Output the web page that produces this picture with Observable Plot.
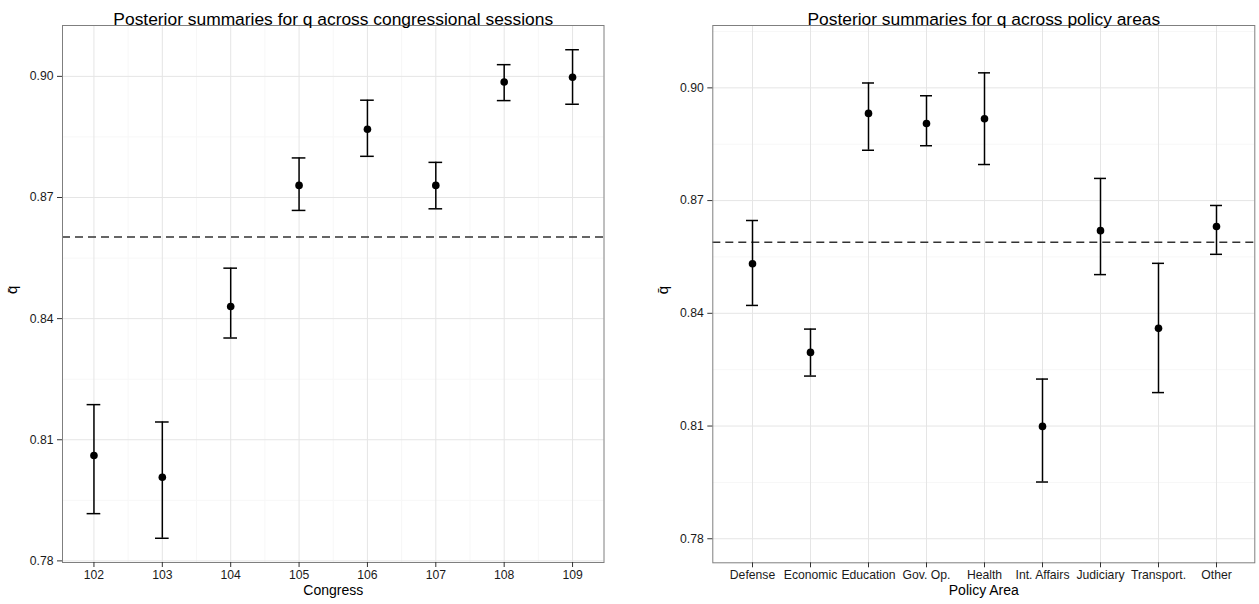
<!DOCTYPE html>
<html>
<head>
<meta charset="utf-8">
<script src="https://cdn.jsdelivr.net/npm/d3@7"></script>
<script src="https://cdn.jsdelivr.net/npm/@observablehq/plot@0.6"></script>
<style>
  html, body { margin: 0; padding: 0; background: #fff; overflow: hidden; }
  #wrap { display: flex; width: 1259px; height: 604px; }
  g[aria-label$="tick label"], g[aria-label$="tick label"] text { font-size: 12.2px !important; }
</style>
</head>
<body>
<div id="wrap"></div>
<script>
// ---- Data: congressional sessions ----
const congress = [102, 103, 104, 105, 106, 107, 108, 109];
const congressMean = [0.8061, 0.8007, 0.8430, 0.8730, 0.8869, 0.8730, 0.8986, 0.8998];
const congressLow  = [0.7917, 0.7856, 0.8352, 0.8668, 0.8802, 0.8672, 0.8940, 0.8931];
const congressHigh = [0.8187, 0.8144, 0.8525, 0.8798, 0.8941, 0.8787, 0.9029, 0.9066];
const congressRef = 0.8602;

// ---- Data: policy areas ----
const areas = ["Defense", "Economic", "Education", "Gov. Op.", "Health", "Int. Affairs", "Judiciary", "Transport.", "Other"];
const areaMean = [0.8532, 0.8296, 0.8932, 0.8905, 0.8918, 0.8099, 0.8620, 0.8360, 0.8631];
const areaLow  = [0.8421, 0.8233, 0.8834, 0.8846, 0.8796, 0.7951, 0.8503, 0.8189, 0.8557];
const areaHigh = [0.8647, 0.8358, 0.9013, 0.8979, 0.9040, 0.8225, 0.8759, 0.8533, 0.8687];
const areaRef = 0.8589;

// ---- Tick labels / titles ----
const yTicks = [0.78, 0.81, 0.84, 0.87, 0.90];
const yMinorLeft = [0.795, 0.825, 0.855, 0.885];
const yMinorRight = [0.795, 0.825, 0.855, 0.885, 0.915];
const xMinorLeft = [102.5, 103.5, 104.5, 105.5, 106.5, 107.5, 108.5];
const titleLeft = "Posterior summaries for q across congressional sessions";
const titleRight = "Posterior summaries for q across policy areas";
const xLabelLeft = "Congress";
const xLabelRight = "Policy Area";
const yLabel = "q\u0304";

const font = '"Liberation Sans", Arial, Helvetica, sans-serif';
const majorGrid = {stroke: "#e5e5e5", strokeOpacity: 1, strokeWidth: 1};
const minorGrid = {stroke: "#f7f7f7", strokeOpacity: 1, strokeWidth: 1};
const fmt = d3.format(".2f");
const svgStyle = {fontFamily: font, fontSize: "12px", background: "#fff", overflow: "visible"};

const leftData = congress.map((c, i) => ({c, m: congressMean[i], lo: congressLow[i], hi: congressHigh[i]}));
const rightData = areas.map((a, i) => ({a, m: areaMean[i], lo: areaLow[i], hi: areaHigh[i]}));

const left = Plot.plot({
  width: 630, height: 604,
  marginLeft: 62, marginRight: 26.5, marginTop: 25, marginBottom: 42,
  style: svgStyle,
  x: {domain: [101.54, 109.46]},
  y: {domain: [0.7796, 0.9126]},
  marks: [
    Plot.gridY(yMinorLeft, minorGrid),
    Plot.gridX(xMinorLeft, minorGrid),
    Plot.gridY(yTicks, majorGrid),
    Plot.gridX(congress, majorGrid),
    Plot.ruleY([congressRef], {stroke: "#333", strokeWidth: 1.4, strokeDasharray: "8,5"}),
    Plot.ruleX(leftData, {x: "c", y1: "lo", y2: "hi", stroke: "#000", strokeWidth: 1.5}),
    Plot.ruleY(leftData, {y: "hi", x1: d => d.c - 0.1, x2: d => d.c + 0.1, stroke: "#000", strokeWidth: 1.5}),
    Plot.ruleY(leftData, {y: "lo", x1: d => d.c - 0.1, x2: d => d.c + 0.1, stroke: "#000", strokeWidth: 1.5}),
    Plot.dot(leftData, {x: "c", y: "m", r: 3.8, fill: "#000", stroke: null}),
    Plot.frame({stroke: "#7f7f7f", strokeWidth: 1}),
    Plot.axisY(yTicks, {tickFormat: fmt, tickSize: 5, tickPadding: 4, fontSize: 12.2, label: null, stroke: "#333", fill: "#1a1a1a"}),
    Plot.axisX(congress, {tickFormat: d => String(d), tickSize: 5, tickPadding: 3, fontSize: 12.2, label: null, stroke: "#333", fill: "#1a1a1a"}),
    Plot.text([yLabel], {text: d => d, frameAnchor: "left", dx: -50, rotate: -90, fontSize: 15, fill: "#000"}),
    Plot.text([xLabelLeft], {text: d => d, frameAnchor: "bottom", dy: 32, fontSize: 14, fill: "#000"}),
    Plot.text([titleLeft], {text: d => d, frameAnchor: "top", dy: -12.5, fontSize: 17.4, fill: "#000"})
  ]
});

const right = Plot.plot({
  width: 629, height: 604,
  marginLeft: 82.3, marginRight: 4.7, marginTop: 25, marginBottom: 41.7,
  style: svgStyle,
  x: {type: "band", domain: areas, paddingInner: 0.8, paddingOuter: 0.5},
  y: {domain: [0.7736, 0.9166]},
  marks: [
    Plot.gridY(yMinorRight, minorGrid),
    Plot.gridY(yTicks, majorGrid),
    Plot.gridX(areas, majorGrid),
    Plot.ruleY([areaRef], {stroke: "#333", strokeWidth: 1.4, strokeDasharray: "8,5"}),
    Plot.ruleX(rightData, {x: "a", y1: "lo", y2: "hi", stroke: "#000", strokeWidth: 1.5}),
    Plot.tickY(rightData, {x: "a", y: "hi", stroke: "#000", strokeWidth: 1.5}),
    Plot.tickY(rightData, {x: "a", y: "lo", stroke: "#000", strokeWidth: 1.5}),
    Plot.dot(rightData, {x: "a", y: "m", r: 3.8, fill: "#000", stroke: null}),
    Plot.frame({stroke: "#7f7f7f", strokeWidth: 1}),
    Plot.axisY(yTicks, {tickFormat: fmt, tickSize: 5, tickPadding: 4, fontSize: 12.2, label: null, stroke: "#333", fill: "#1a1a1a"}),
    Plot.axisX(areas, {tickSize: 5, tickPadding: 3, fontSize: 12.2, label: null, stroke: "#333", fill: "#1a1a1a"}),
    Plot.text([yLabel], {text: d => d, frameAnchor: "left", dx: -50, rotate: -90, fontSize: 15, fill: "#000"}),
    Plot.text([xLabelRight], {text: d => d, frameAnchor: "bottom", dy: 32, fontSize: 14, fill: "#000"}),
    Plot.text([titleRight], {text: d => d, frameAnchor: "top", dy: -12.5, fontSize: 17.4, fill: "#000"})
  ]
});

const wrap = document.getElementById("wrap");
wrap.appendChild(left);
wrap.appendChild(right);
</script>
</body>
</html>
